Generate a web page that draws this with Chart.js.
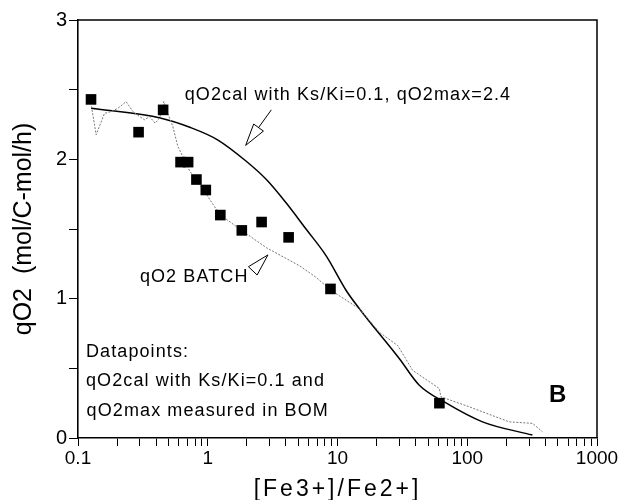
<!DOCTYPE html>
<html><head><meta charset="utf-8">
<script src="https://cdn.jsdelivr.net/npm/chart.js@4/dist/chart.umd.min.js"></script>
<style>html,body{margin:0;padding:0;background:#fff}#wrap{width:623px;height:500px;position:relative}</style>
</head><body><div id="wrap"><canvas id="c"></canvas></div>
<script>
// ---- data ----
// calculated curve qO2cal (Ks/Ki = 0.1, qO2max = 2.4)
const calcX = [0.126, 0.438, 0.727, 1.19, 1.98, 2.83, 4.0, 5.74, 8.18, 11.7, 14.8, 30, 42.7, 66.5, 131, 318];
const calcY = [2.367, 2.295, 2.23, 2.14, 1.986, 1.855, 1.69, 1.498, 1.307, 1.057, 0.926, 0.569, 0.379, 0.259, 0.116, 0.021];
// measured qO2 BATCH trace
const batchX = [0.127, 0.138, 0.160, 0.180, 0.203, 0.235, 0.265, 0.298, 0.326, 0.356, 0.393, 0.425, 0.459, 0.492, 0.538, 0.588, 0.642, 0.727, 0.818, 0.977, 1.237, 1.816, 2.83, 5.10, 6.86, 8.84, 14.8, 21.0, 29.1, 37.9, 60.9, 62.8, 103.6, 210, 318, 380];
const batchY = [2.38, 2.176, 2.33, 2.343, 2.366, 2.414, 2.343, 2.307, 2.284, 2.307, 2.259, 2.295, 2.414, 2.33, 2.236, 2.093, 2.02, 1.914, 1.855, 1.748, 1.605, 1.491, 1.366, 1.236, 1.152, 1.062, 0.926, 0.759, 0.664, 0.486, 0.355, 0.295, 0.224, 0.116, 0.105, 0.045];
// datapoints: qO2cal with Ks/Ki=0.1 and qO2max measured in BOM
const ptsX = [0.126, 0.293, 0.453, 0.617, 0.706, 0.818, 0.966, 1.25, 1.83, 2.60, 4.20, 8.83, 61];
const ptsY = [2.43, 2.195, 2.355, 1.98, 1.98, 1.855, 1.78, 1.60, 1.49, 1.55, 1.44, 1.07, 0.25];
// axes
const xMajor = [0.1, 1, 10, 100, 1000];
const xTickLabels = ['0.1', '1', '10', '100', '1000'];
const yTickLabels = ['0', '1', '2', '3'];
const xTitle = '[Fe3+]/Fe2+]';
const yTitle = 'qO2  (mol/C-mol/h)';

const FONT = "'Liberation Sans', Arial, Helvetica, sans-serif";
const pairs = (xs, ys) => xs.map((x, i) => ({x, y: ys[i]}));

// annotations anchored in data coordinates
const notes = [
  {text: 'qO2cal with Ks/Ki=0.1, qO2max=2.4', x: 0.665, y: 2.464},
  {text: 'qO2 BATCH', x: 0.3, y: 1.157},
  {text: 'Datapoints:', x: 0.1152, y: 0.614},
  {text: 'qO2cal with Ks/Ki=0.1 and', x: 0.1152, y: 0.407},
  {text: 'qO2max measured in BOM', x: 0.1165, y: 0.193}
];
const arrows = [
  {from: [3.09, 2.355], to: [1.96, 2.10]},
  {from: [2.22, 1.199], to: [2.91, 1.314]}
];

const minorTicks = [];
xMajor.forEach((m, i) => { minorTicks.push(m); if (i < xMajor.length - 1) for (let k = 2; k <= 9; k++) minorTicks.push(m * k); });

const spacedTitle = {
  id: 'spacedTitle',
  beforeDraw(chart) {
    const s = chart.scales.x;
    if (s && !s._spaced) {
      const orig = s.drawTitle.bind(s);
      s.drawTitle = function () {
        const c = this.ctx; c.save();
        try { c.letterSpacing = '3px'; } catch (e) {}
        orig(); c.restore();
      };
      s._spaced = true;
    }
  }
};

const annot = {
  id: 'annot',
  afterDatasetsDraw(chart) {
    const {ctx, scales: {x, y}, chartArea: a} = chart;
    ctx.save();
    // frame
    ctx.strokeStyle = '#000'; ctx.lineWidth = 1.5;
    ctx.beginPath();
    ctx.moveTo(a.left, a.top); ctx.lineTo(a.right, a.top); ctx.lineTo(a.right, a.bottom);
    ctx.stroke();
    // texts
    ctx.fillStyle = '#000';
    ctx.textBaseline = 'middle'; ctx.textAlign = 'left';
    ctx.font = '18px ' + FONT;
    try { ctx.letterSpacing = '1.1px'; } catch (e) {}
    notes.forEach(n => ctx.fillText(n.text, x.getPixelForValue(n.x), y.getPixelForValue(n.y)));
    try { ctx.letterSpacing = '0px'; } catch (e) {}
    ctx.font = 'bold 24px ' + FONT;
    ctx.fillText('B', x.getPixelForValue(427), y.getPixelForValue(0.307));
    // arrows
    ctx.lineWidth = 1; ctx.strokeStyle = '#000';
    arrows.forEach(ar => {
      const tx = x.getPixelForValue(ar.from[0]), ty = y.getPixelForValue(ar.from[1]);
      const hx = x.getPixelForValue(ar.to[0]), hy = y.getPixelForValue(ar.to[1]);
      const dx = hx - tx, dy = hy - ty, d = Math.hypot(dx, dy);
      const ux = dx / d, uy = dy / d, L = 22, W = 6;
      const bx = hx - ux * L, by = hy - uy * L;
      if (d > L + 1) { ctx.beginPath(); ctx.moveTo(tx, ty); ctx.lineTo(bx, by); ctx.stroke(); }
      ctx.beginPath();
      ctx.moveTo(hx, hy);
      ctx.lineTo(bx - uy * W, by + ux * W);
      ctx.lineTo(bx + uy * W, by - ux * W);
      ctx.closePath();
      ctx.fillStyle = '#fff'; ctx.fill(); ctx.stroke();
    });
    ctx.restore();
  }
};

new Chart(document.getElementById('c'), {
  type: 'scatter',
  data: {
    datasets: [
      {label: 'Datapoints', data: pairs(ptsX, ptsY), pointStyle: 'rect', pointRadius: 7.5, pointHoverRadius: 7.5,
       backgroundColor: '#000', borderColor: '#000', borderWidth: 0, showLine: false, order: 0},
      {label: 'qO2cal', data: pairs(calcX, calcY), showLine: true, borderColor: '#000', borderWidth: 1.5,
       pointRadius: 0, cubicInterpolationMode: 'monotone', order: 2},
      {label: 'qO2 BATCH', data: pairs(batchX, batchY), showLine: true, borderColor: '#777', borderWidth: 1,
       borderDash: [2, 1.5], pointRadius: 0, tension: 0, order: 1}
    ]
  },
  options: {
    responsive: true, maintainAspectRatio: false, animation: false,
    layout: {padding: {top: 20, right: 26, left: 0, bottom: 0}},
    plugins: {legend: {display: false}, tooltip: {enabled: false}},
    scales: {
      x: {
        type: 'logarithmic', min: 0.1, max: 1000,
        afterBuildTicks: s => { s.ticks = minorTicks.map(v => ({value: v})); },
        afterFit: s => { s.height = 62; },
        ticks: {
          autoSkip: false, maxRotation: 0, minRotation: 0, padding: 1, color: '#000',
          font: {family: FONT, size: 19},
          callback: v => { const i = xMajor.findIndex(m => Math.abs(m - v) < 1e-9 * m); return i >= 0 ? xTickLabels[i] : ''; }
        },
        grid: {display: true, drawOnChartArea: false, drawTicks: true, tickLength: 8, color: '#000', lineWidth: 1},
        border: {display: true, color: '#000', width: 1.6},
        title: {display: true, text: xTitle, color: '#000', font: {family: FONT, size: 23, lineHeight: 0.9}, padding: {top: 0, bottom: 0}}
      },
      y: {
        min: 0, max: 3,
        afterFit: s => { s.width = 78; },
        ticks: {
          stepSize: 0.5, padding: 2, color: '#000', font: {family: FONT, size: 20},
          callback: v => Number.isInteger(v) ? yTickLabels[v] : ''
        },
        grid: {display: true, drawOnChartArea: false, drawTicks: true, tickLength: 9, color: '#000', lineWidth: 1},
        border: {display: true, color: '#000', width: 1.6},
        title: {display: true, text: yTitle, color: '#000', font: {family: FONT, size: 25, lineHeight: 1}, padding: {top: 12, bottom: 0}}
      }
    }
  },
  plugins: [spacedTitle, annot]
});
</script></body></html>
